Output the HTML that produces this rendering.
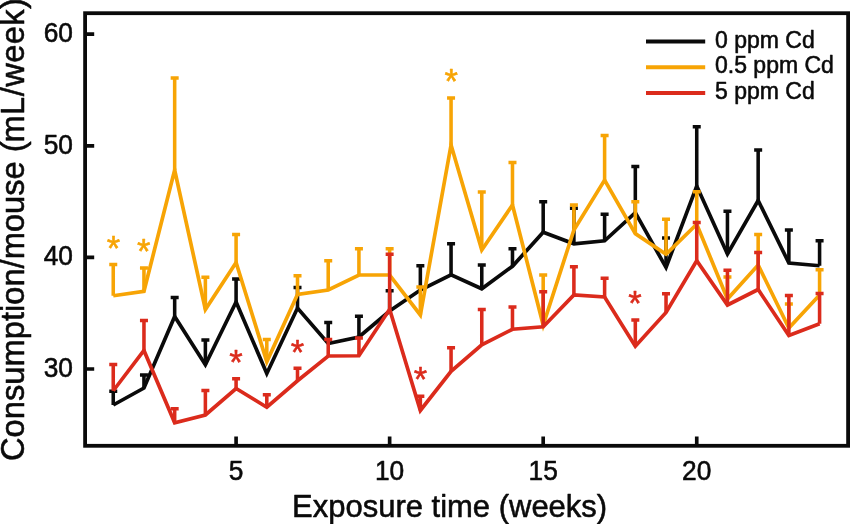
<!DOCTYPE html>
<html><head><meta charset="utf-8"><title>Consumption per mouse</title>
<style>
html,body{margin:0;padding:0;background:#fff;}
body{width:850px;height:524px;overflow:hidden;}
svg{display:block;}
text{font-family:"Liberation Sans",Arial,Helvetica,sans-serif;fill:#0a0a0a;stroke:#0a0a0a;stroke-width:0.55px;stroke-linejoin:round;font-kerning:none;}
</style></head><body>
<svg width="850" height="524" viewBox="0 0 850 524">
<rect width="850" height="524" fill="#fff"/>
<rect x="85.1" y="13.2" width="763.0" height="432.6" fill="none" stroke="#0a0a0a" stroke-width="3.8"/>
<path d="M85.1 34.1H94.2M85.1 145.8H94.2M85.1 257.4H94.2M85.1 369.0H94.2M236.09 445.8V436.5M389.64 445.8V436.5M543.19 445.8V436.5M696.74 445.8V436.5" fill="none" stroke="#0a0a0a" stroke-width="3.65"/>
<text transform="translate(72.9 41.9) scale(1 1.04)" font-size="26.3" text-anchor="end">60</text>
<text transform="translate(72.9 153.6) scale(1 1.04)" font-size="26.3" text-anchor="end">50</text>
<text transform="translate(72.9 265.2) scale(1 1.04)" font-size="26.3" text-anchor="end">40</text>
<text transform="translate(72.9 376.8) scale(1 1.04)" font-size="26.3" text-anchor="end">30</text>
<text transform="translate(236.1 479.7) scale(1 1.04)" font-size="26.3" text-anchor="middle">5</text>
<text transform="translate(389.6 479.7) scale(1 1.04)" font-size="26.3" text-anchor="middle">10</text>
<text transform="translate(543.2 479.7) scale(1 1.04)" font-size="26.3" text-anchor="middle">15</text>
<text transform="translate(696.7 479.7) scale(1 1.04)" font-size="26.3" text-anchor="middle">20</text>
<text transform="translate(449.6 516.7) scale(1 1.03)" font-size="31" text-anchor="middle">Exposure time (weeks)</text>
<text transform="translate(24.3 461) rotate(-90)" font-size="32.7">Consumption/mouse (<tspan dx="-1.3" letter-spacing="0.4">mL/week)</tspan></text>
<polyline points="113.25,405.00 143.96,388.00 174.67,316.50 205.38,364.70 236.09,302.00 266.80,373.50 297.51,308.00 328.22,343.50 358.93,337.00 389.64,311.00 420.35,290.00 451.06,274.75 481.77,288.75 512.48,266.25 543.19,232.25 573.90,243.75 604.61,240.75 635.32,212.70 666.03,267.50 696.74,186.00 727.45,254.00 758.16,200.50 788.87,263.00 819.58,265.75" fill="none" stroke="#0a0a0a" stroke-width="3.7" stroke-linejoin="miter" stroke-miterlimit="10"/>
<path d="M113.25 405.00V391.25M109.25 391.25H117.25M143.96 388.00V375.00M139.96 375.00H147.96M174.67 316.50V297.50M170.67 297.50H178.67M205.38 364.70V340.00M201.38 340.00H209.38M236.09 302.00V279.00M232.09 279.00H240.09M297.51 308.00V287.50M293.51 287.50H301.51M328.22 343.50V322.50M324.22 322.50H332.22M358.93 337.00V316.25M354.93 316.25H362.93M389.64 311.00V290.75M385.64 290.75H393.64M420.35 290.00V265.75M416.35 265.75H424.35M451.06 274.75V243.75M447.06 243.75H455.06M481.77 288.75V265.00M477.77 265.00H485.77M512.48 266.25V248.75M508.48 248.75H516.48M543.19 232.25V201.75M539.19 201.75H547.19M573.90 243.75V208.25M569.90 208.25H577.90M604.61 240.75V214.25M600.61 214.25H608.61M635.32 212.70V166.50M631.32 166.50H639.32M666.03 267.50V238.00M662.03 238.00H670.03M696.74 186.00V126.75M692.74 126.75H700.74M727.45 254.00V211.25M723.45 211.25H731.45M758.16 200.50V150.00M754.16 150.00H762.16M788.87 263.00V230.00M784.87 230.00H792.87M819.58 265.75V240.75M815.58 240.75H823.58" fill="none" stroke="#0a0a0a" stroke-width="3.55"/>
<polyline points="113.25,295.75 143.96,291.25 174.67,170.00 205.38,309.50 236.09,262.50 266.80,361.75 297.51,294.50 328.22,290.00 358.93,275.00 389.64,275.00 420.35,315.00 451.06,145.00 481.77,250.00 512.48,205.00 543.19,325.00 573.90,230.00 604.61,180.00 635.32,233.60 666.03,254.25 696.74,224.30 727.45,299.00 758.16,265.00 788.87,328.00 819.58,295.00" fill="none" stroke="#f7a405" stroke-width="3.7" stroke-linejoin="miter" stroke-miterlimit="10"/>
<path d="M113.25 295.75V264.50M109.25 264.50H117.25M143.96 291.25V268.00M139.96 268.00H147.96M174.67 170.00V78.00M170.67 78.00H178.67M205.38 309.50V277.20M201.38 277.20H209.38M236.09 262.50V234.50M232.09 234.50H240.09M266.80 361.75V339.50M262.80 339.50H270.80M297.51 294.50V275.75M293.51 275.75H301.51M328.22 290.00V260.75M324.22 260.75H332.22M358.93 275.00V248.75M354.93 248.75H362.93M389.64 275.00V248.70M385.64 248.70H393.64M420.35 315.00V287.00M416.35 287.00H424.35M451.06 145.00V98.00M447.06 98.00H455.06M481.77 250.00V192.00M477.77 192.00H485.77M512.48 205.00V162.50M508.48 162.50H516.48M543.19 325.00V275.00M539.19 275.00H547.19M573.90 230.00V205.00M569.90 205.00H577.90M604.61 180.00V135.50M600.61 135.50H608.61M635.32 233.60V201.75M631.32 201.75H639.32M666.03 254.25V219.25M662.03 219.25H670.03M696.74 224.30V191.80M692.74 191.80H700.74M727.45 299.00V277.00M723.45 277.00H731.45M758.16 265.00V234.50M754.16 234.50H762.16M788.87 328.00V304.00M784.87 304.00H792.87M819.58 295.00V269.75M815.58 269.75H823.58" fill="none" stroke="#f7a405" stroke-width="3.55"/>
<polyline points="113.25,390.75 143.96,350.50 174.67,422.75 205.38,415.00 236.09,388.50 266.80,407.25 297.51,380.75 328.22,356.00 358.93,355.75 389.64,309.20 420.35,410.50 451.06,371.30 481.77,344.75 512.48,329.25 543.19,326.75 573.90,295.00 604.61,297.00 635.32,346.25 666.03,312.50 696.74,260.75 727.45,305.00 758.16,289.50 788.87,335.50 819.58,323.75" fill="none" stroke="#db2b1c" stroke-width="3.7" stroke-linejoin="miter" stroke-miterlimit="10"/>
<path d="M113.25 390.75V364.50M109.25 364.50H117.25M143.96 350.50V320.50M139.96 320.50H147.96M174.67 422.75V408.75M170.67 408.75H178.67M205.38 415.00V390.50M201.38 390.50H209.38M236.09 388.50V378.75M232.09 378.75H240.09M266.80 407.25V394.75M262.80 394.75H270.80M297.51 380.75V368.25M293.51 368.25H301.51M328.22 356.00V339.50M324.22 339.50H332.22M358.93 355.75V338.00M354.93 338.00H362.93M389.64 309.20V254.20M385.64 254.20H393.64M420.35 410.50V396.25M416.35 396.25H424.35M451.06 371.30V347.75M447.06 347.75H455.06M481.77 344.75V309.50M477.77 309.50H485.77M512.48 329.25V307.00M508.48 307.00H516.48M543.19 326.75V291.75M539.19 291.75H547.19M573.90 295.00V266.75M569.90 266.75H577.90M604.61 297.00V278.25M600.61 278.25H608.61M635.32 346.25V320.00M631.32 320.00H639.32M666.03 312.50V293.75M662.03 293.75H670.03M696.74 260.75V222.50M692.74 222.50H700.74M727.45 305.00V270.25M723.45 270.25H731.45M758.16 289.50V252.50M754.16 252.50H762.16M788.87 335.50V295.50M784.87 295.50H792.87M819.58 323.75V293.50M815.58 293.50H823.58" fill="none" stroke="#db2b1c" stroke-width="3.55"/>
<text x="113.4" y="260.0" font-size="34.5" text-anchor="middle" style="fill:#f7a405;stroke:#f7a405">*</text>
<text x="143.8" y="263.2" font-size="34.5" text-anchor="middle" style="fill:#f7a405;stroke:#f7a405">*</text>
<text x="451.3" y="92.7" font-size="34.5" text-anchor="middle" style="fill:#f7a405;stroke:#f7a405">*</text>
<text x="236" y="373.6" font-size="34.5" text-anchor="middle" style="fill:#db2b1c;stroke:#db2b1c">*</text>
<text x="297.5" y="363.8" font-size="34.5" text-anchor="middle" style="fill:#db2b1c;stroke:#db2b1c">*</text>
<text x="420.5" y="390.8" font-size="34.5" text-anchor="middle" style="fill:#db2b1c;stroke:#db2b1c">*</text>
<text x="635" y="315.3" font-size="34.5" text-anchor="middle" style="fill:#db2b1c;stroke:#db2b1c">*</text>
<path d="M646 41.5H705.2" stroke="#0a0a0a" stroke-width="3.9" fill="none"/>
<text x="715" y="47.5" font-size="23">0 ppm Cd</text>
<path d="M646 67.2H705.2" stroke="#f7a405" stroke-width="3.9" fill="none"/>
<text x="715" y="73.2" font-size="23">0.5 ppm Cd</text>
<path d="M646 93H705.2" stroke="#db2b1c" stroke-width="3.9" fill="none"/>
<text x="715" y="99.0" font-size="23">5 ppm Cd</text>
</svg></body></html>
